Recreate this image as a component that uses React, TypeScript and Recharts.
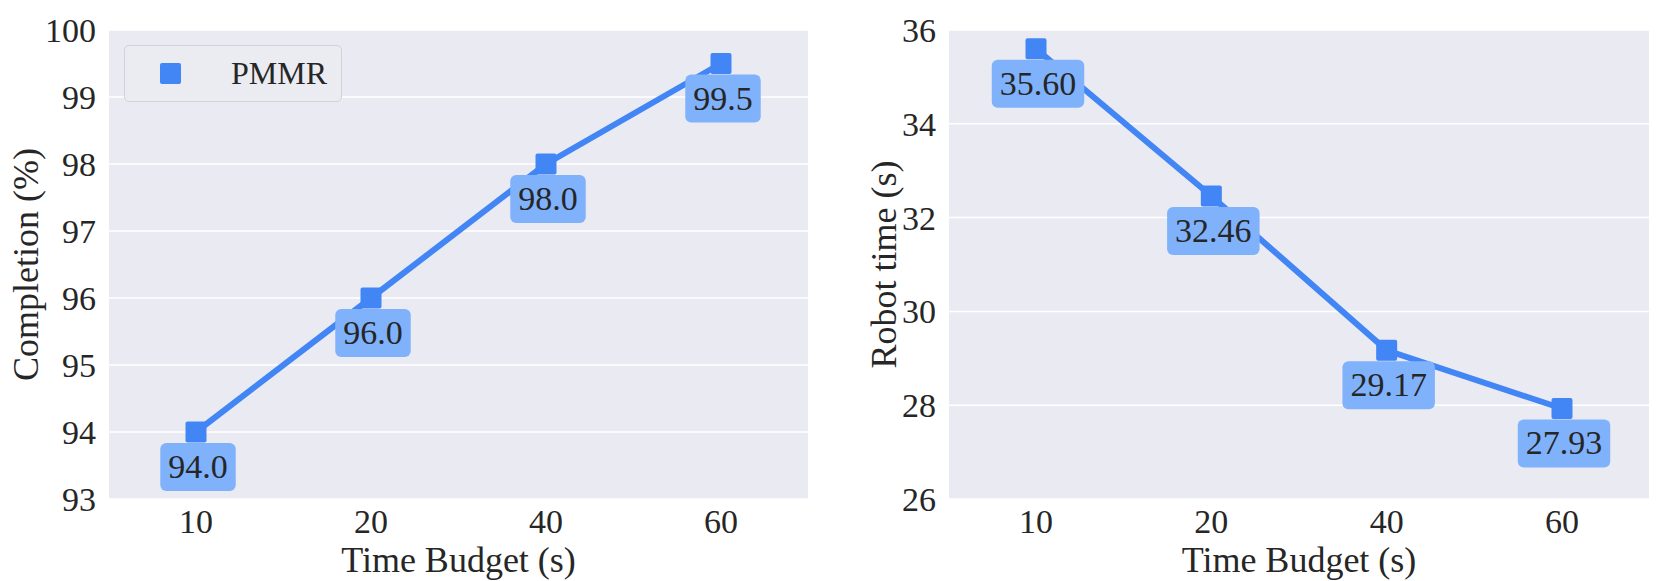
import { LineChart, Line, XAxis, YAxis, CartesianGrid, LabelList } from "recharts";

const budgets = ["10", "20", "40", "60"];
const completion = [94.0, 96.0, 98.0, 99.5];
const robotTime = [35.6, 32.46, 29.17, 27.93];
const completionTicks = [93, 94, 95, 96, 97, 98, 99, 100];
const robotTicks = [26, 28, 30, 32, 34, 36];

const completionData = budgets.map((b, i) => ({ budget: b, value: completion[i] }));
const robotData = budgets.map((b, i) => ({ budget: b, value: robotTime[i] }));

const BLUE = "#4285f4";
const BOX = "#80b2fc";
const INK = "#262626";
const FONT = "'Liberation Serif', 'Times New Roman', serif";

const SquareDot = (props: any) => {
  const { cx, cy } = props;
  if (cx == null || cy == null) return null;
  return <rect x={cx - 10.5} y={cy - 10.5} width={21} height={21} rx={2} fill={BLUE} />;
};

// rounded box under each point, like the matplotlib bbox annotations
const boxLabel = (decimals: number) => (props: any) => {
  const x = props.x ?? props.viewBox?.x;
  const y = props.y ?? props.viewBox?.y;
  if (x == null || y == null) return null;
  const text = Number(props.value).toFixed(decimals);
  const digits = text.replace(".", "").length;
  const w = digits * 17 + 8.5 + 16;
  const cx = x + 2;
  return (
    <g>
      <rect x={cx - w / 2} y={y + 11} width={w} height={48} rx={6} fill={BOX} />
      <text x={cx} y={y + 46} textAnchor="middle" fontSize={34} fontFamily={FONT} fill={INK}>
        {text}
      </text>
    </g>
  );
};

const yTitle = (text: string, cx: number) => (props: any) => {
  const vb = props.viewBox;
  const cy = vb.y + vb.height / 2;
  return (
    <text
      x={cx}
      y={cy}
      transform={`rotate(-90, ${cx}, ${cy})`}
      textAnchor="middle"
      dominantBaseline="central"
      fontSize={36}
      fontFamily={FONT}
      fill={INK}
    >
      {text}
    </text>
  );
};

const xTitle = (text: string) => (props: any) => {
  const vb = props.viewBox;
  return (
    <text x={vb.x + vb.width / 2} y={572} textAnchor="middle" fontSize={36} fontFamily={FONT} fill={INK}>
      {text}
    </text>
  );
};

const tickStyle = { fontSize: 34, fontFamily: FONT, fill: INK };

function Panel(props: {
  data: { budget: string; value: number }[];
  width: number;
  yWidth: number;
  right: number;
  domain: [number, number];
  ticks: number[];
  decimals: number;
  yLabel: string;
  yLabelX: number;
}) {
  return (
    <LineChart
      width={props.width}
      height={581}
      data={props.data}
      margin={{ top: 30, right: props.right, bottom: 0, left: 0 }}
    >
      <CartesianGrid vertical={false} stroke="#ffffff" strokeWidth={1.5} fill="#eaeaf2" />
      <XAxis
        dataKey="budget"
        height={82}
        padding={{ left: 87, right: 87 }}
        axisLine={false}
        tickLine={false}
        tickMargin={4}
        tick={tickStyle}
        label={{ content: xTitle("Time Budget (s)") }}
      />
      <YAxis
        type="number"
        domain={props.domain}
        ticks={props.ticks}
        interval={0}
        width={props.yWidth}
        axisLine={false}
        tickLine={false}
        tickMargin={7}
        tick={tickStyle}
        label={{ content: yTitle(props.yLabel, props.yLabelX) }}
      />
      <Line
        dataKey="value"
        stroke={BLUE}
        strokeWidth={6}
        dot={<SquareDot />}
        activeDot={false}
        isAnimationActive={false}
      >
        <LabelList dataKey="value" content={boxLabel(props.decimals)} />
      </Line>
    </LineChart>
  );
}

export default function App() {
  return (
    <div style={{ position: "absolute", left: 0, top: 0, width: 1661, height: 581, background: "#ffffff" }}>
      <div style={{ position: "absolute", left: 0, top: 0 }}>
        <Panel
          data={completionData}
          width={830}
          yWidth={109}
          right={22}
          domain={[93, 100]}
          ticks={completionTicks}
          decimals={1}
          yLabel="Completion (%)"
          yLabelX={26}
        />
        <div
          style={{
            position: "absolute",
            left: 124,
            top: 45,
            width: 218,
            height: 57,
            boxSizing: "border-box",
            border: "1.5px solid #d2d2d8",
            borderRadius: 5,
            background: "#ebebf2",
          }}
        >
          <div
            style={{
              position: "absolute",
              left: 35,
              top: 17,
              width: 21,
              height: 21,
              borderRadius: 2,
              background: BLUE,
            }}
          />
          <div
            style={{
              position: "absolute",
              left: 106,
              top: 9,
              fontSize: 32,
              lineHeight: "36px",
              fontFamily: FONT,
              color: INK,
            }}
          >
            PMMR
          </div>
        </div>
      </div>
      <div style={{ position: "absolute", left: 830, top: 0 }}>
        <Panel
          data={robotData}
          width={831}
          yWidth={119}
          right={12}
          domain={[26, 36]}
          ticks={robotTicks}
          decimals={2}
          yLabel="Robot time (s)"
          yLabelX={54}
        />
      </div>
    </div>
  );
}
